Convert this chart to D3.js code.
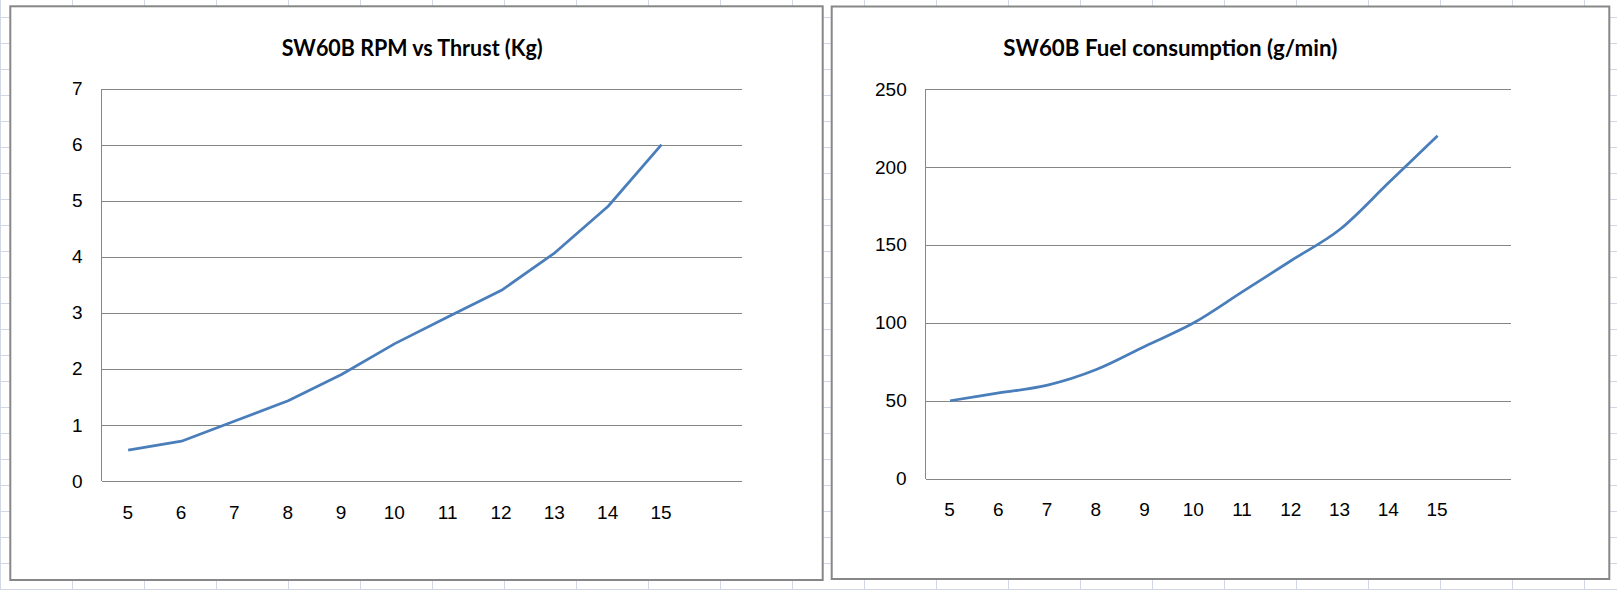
<!DOCTYPE html>
<html><head><meta charset="utf-8">
<script src="https://cdn.jsdelivr.net/npm/d3@7"></script>
<style>html,body{margin:0;padding:0;background:#fff;overflow:hidden}</style>
</head><body><svg id="c" width="1617" height="590"></svg>
<script>
// ---- data ----
const rpm = [5, 6, 7, 8, 9, 10, 11, 12, 13, 14, 15];
const thrustKg = [0.55, 0.71, 1.07, 1.43, 1.9, 2.45, 2.93, 3.4, 4.07, 4.9, 6.0];
const fuelGmin = [50, 55, 60, 70, 85, 100, 120, 140, 160, 190, 220];
const thrustTicks = [0, 1, 2, 3, 4, 5, 6, 7];
const fuelTicks = [0, 50, 100, 150, 200, 250];
const titles = ["SW60B RPM vs Thrust (Kg)", "SW60B Fuel consumption (g/min)"];

const svg = d3.select("#c");
const W = 1617, H = 590;

// spreadsheet background grid
const bg = svg.append("g");
bg.append("rect").attr("width", W).attr("height", H).attr("fill", "#ffffff");
bg.selectAll("line.v").data(d3.range(0, W, 72)).join("line")
  .attr("x1", d => d + 0.5).attr("x2", d => d + 0.5).attr("y1", 0).attr("y2", H)
  .attr("stroke", "#d0d7e5").attr("stroke-width", 1);
bg.selectAll("line.h").data(d3.range(17, H, 26)).join("line")
  .attr("y1", d => d + 0.5).attr("y2", d => d + 0.5).attr("x1", 0).attr("x2", W)
  .attr("stroke", "#d0d7e5").attr("stroke-width", 1);

const charts = [
  { frame: { x: 10.3, y: 6.3, w: 812.4, h: 573.7 },
    plot: { l: 101.5, r: 741.5, t: 88.5, b: 481 },
    title: titles[0], titleX: 281.7, titleW: 261,
    values: thrustKg, ticks: thrustTicks, curve: d3.curveLinear, xlabOff: 31.5 },
  { frame: { x: 831.7, y: 6.5, w: 777.6, h: 572.5 },
    plot: { l: 925.7, r: 1510.7, t: 89, b: 478.7 },
    title: titles[1], titleX: 1003.3, titleW: 334,
    values: fuelGmin, ticks: fuelTicks, curve: d3.curveCatmullRom.alpha(0), xlabOff: 30.8 }
];

charts.forEach(c => {
  const g = svg.append("g");
  g.append("rect").attr("x", c.frame.x).attr("y", c.frame.y)
    .attr("width", c.frame.w).attr("height", c.frame.h)
    .attr("fill", "#fff").attr("stroke", "#878787").attr("stroke-width", 2);

  const t = g.append("text").attr("x", c.titleX).attr("y", 55.5)
    .attr("font-family", "Lato, 'Open Sans', sans-serif").attr("font-weight", 700)
    .attr("font-size", 22.5).attr("fill", "#000").text(c.title);
  t.attr("textLength", c.titleW).attr("lengthAdjust", "spacingAndGlyphs");

  const x = d3.scaleLinear().domain([rpm[0] - 0.5, rpm[rpm.length - 1] + 1.5]).range([c.plot.l, c.plot.r]);
  const y = d3.scaleLinear().domain([0, c.ticks[c.ticks.length - 1]]).range([c.plot.b, c.plot.t]);

  // gridlines
  const grid = g.append("g").attr("transform", `translate(${c.plot.l},0)`)
    .call(d3.axisLeft(y).tickValues(c.ticks).tickSize(-(c.plot.r - c.plot.l)).tickFormat(""));
  grid.select(".domain").remove();
  grid.selectAll("line").attr("stroke", "#868686").attr("stroke-width", 1).attr("shape-rendering", "crispEdges");

  // vertical axis line
  g.append("line").attr("x1", c.plot.l).attr("x2", c.plot.l).attr("y1", y(c.ticks[c.ticks.length-1])).attr("y2", y(0))
    .attr("stroke", "#868686").attr("stroke-width", 1).attr("shape-rendering", "crispEdges");

  // y labels
  const ya = g.append("g").attr("transform", `translate(${c.plot.l},0)`)
    .call(d3.axisLeft(y).tickValues(c.ticks).tickSize(0).tickPadding(19).tickFormat(d3.format("d")));
  ya.select(".domain").remove();
  ya.selectAll("text").attr("font-family", "'Liberation Sans', Arial, sans-serif")
    .attr("font-size", 19).attr("fill", "#000");

  // x labels
  const xa = g.append("g").attr("transform", `translate(0,${c.plot.b})`)
    .call(d3.axisBottom(x).tickValues(rpm).tickSize(0).tickPadding(0).tickFormat(d3.format("d")));
  xa.select(".domain").remove();
  xa.selectAll("text").attr("font-family", "'Liberation Sans', Arial, sans-serif")
    .attr("font-size", 19).attr("fill", "#000")
    .attr("x", -1).attr("y", c.xlabOff).attr("dy", "0.35em");

  // series line
  const line = d3.line().x((d, i) => x(rpm[i])).y(d => y(d)).curve(c.curve);
  g.append("path").datum(c.values).attr("d", line)
    .attr("fill", "none").attr("stroke", "#4a7ebb").attr("stroke-width", 2.75)
    .attr("stroke-linejoin", "round");
});
</script>
</body></html>
